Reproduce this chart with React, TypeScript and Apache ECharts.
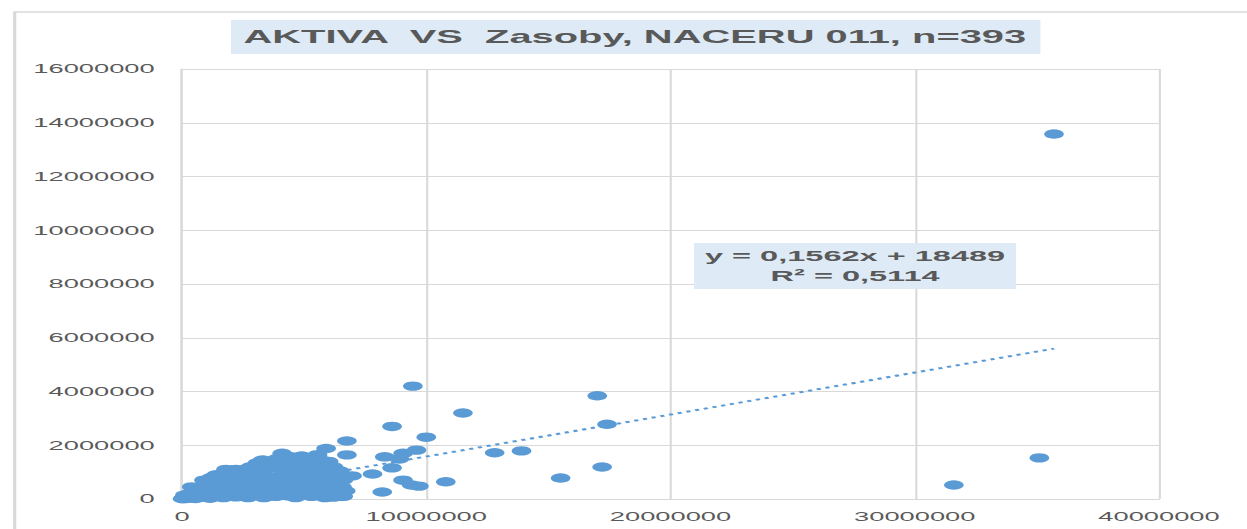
import React, { useEffect, useRef } from "react";
import * as echarts from "echarts";

// Values (AKTIVA on x, Zasoby on y)
const aktiva: number[] = [
  35700000, 31600000, 35100000, 17000000, 17400000, 17200000, 15500000, 13900000,
  12800000, 10800000, 11500000, 9450000, 10000000, 8600000, 9600000, 9050000,
  8300000, 8900000, 8600000, 7800000, 9050000, 9400000, 9700000, 8200000,
  6750000, 6750000, 5900000, 6960000, 6200000, 6300000, 6200000, 5900000,
  20000, 80000, 120000, 180000, 250000, 300000, 350000, 450000,
  500000, 550000, 650000, 700000, 750000, 850000, 900000, 950000,
  1050000, 1100000, 1150000, 1250000, 1300000, 1350000, 1450000, 1500000,
  1550000, 1600000, 1700000, 1750000, 1800000, 1850000, 1950000, 2000000,
  2050000, 2150000, 2200000, 2250000, 2300000, 2400000, 2450000, 2550000,
  2600000, 2700000, 2750000, 2800000, 2850000, 2950000, 3000000, 3100000,
  3150000, 3200000, 3300000, 3350000, 3450000, 3500000, 3600000, 3650000,
  3700000, 3800000, 3850000, 3950000, 4000000, 4100000, 4150000, 4250000,
  4300000, 4350000, 4450000, 4500000, 4600000, 4650000, 4750000, 4800000,
  4850000, 4950000, 5000000, 5100000, 5150000, 5250000, 5300000, 5400000,
  5450000, 5500000, 5600000, 5650000, 5750000, 5800000, 5850000, 5950000,
  6050000, 6100000, 6250000, 6350000, 6450000, 6550000, 4900000, 4400000,
  5200000, 5550000, 3300000, 3000000, 3400000, 3900000, 4200000, 4600000,
  5000000, 5350000, 5700000, 6000000, 6200000, 6450000, 6600000, 6500000,
  2200000, 2600000, 1400000, 1200000, 900000, 400000, 6700000, 6600000,
];
const zasoby: number[] = [
  13580000, 520000, 1530000, 3840000, 2780000, 1190000, 780000, 1790000,
  1720000, 640000, 3200000, 4200000, 2300000, 2700000, 1820000, 1700000,
  1570000, 1490000, 1160000, 930000, 700000, 520000, 480000, 260000,
  2160000, 1640000, 1880000, 860000, 960000, 260000, 70000, 1340000,
  10000, 50000, 150000, 20000, 80000, 200000, 40000, 120000,
  300000, 20000, 180000, 420000, 60000, 250000, 500000, 100000,
  320000, 600000, 30000, 200000, 450000, 700000, 120000, 550000,
  850000, 300000, 50000, 650000, 1100000, 400000, 180000, 900000,
  600000, 300000, 80000, 750000, 1000000, 450000, 200000, 950000,
  650000, 50000, 350000, 1200000, 800000, 150000, 550000, 1350000,
  950000, 300000, 700000, 50000, 1100000, 450000, 200000, 1400000,
  800000, 600000, 100000, 1200000, 350000, 1700000, 950000, 550000,
  120000, 1450000, 750000, 300000, 1150000, 50000, 1550000, 500000,
  900000, 200000, 1300000, 700000, 380000, 1050000, 100000, 1500000,
  550000, 850000, 250000, 1200000, 450000, 950000, 50000, 700000,
  1100000, 350000, 600000, 850000, 150000, 450000, 1600000, 1580000,
  1450000, 1650000, 1450000, 1000000, 1250000, 1500000, 1300000, 1400000,
  1000000, 1250000, 1450000, 1400000, 1200000, 1050000, 700000, 950000,
  1100000, 1100000, 900000, 800000, 700000, 450000, 300000, 100000,
];

const trendSlope = 0.1562;
const trendIntercept = 18489;
const equationLines = ["y = 0,1562x + 18489", "R² = 0,5114"];
const titleText = "AKTIVA  VS  Zasoby, NACERU 011, n=393";

const xMin = 0, xMax = 40000000, xStep = 10000000;
const yMin = 0, yMax = 16000000, yStep = 2000000;

const W = 594;
const H = 529;
const SX = 1247 / W;
const FONT = "'Liberation Sans', Arial, sans-serif";
const BLUE = "#5B9BD5";
const GRID = "#d9d9d9";
const TXT = "#595959";

export default function App() {
  const ref = useRef<HTMLDivElement>(null);
  useEffect(() => {
    if (!ref.current) return;
    const chart = echarts.init(ref.current, null, { renderer: "svg" });
    const points = aktiva.map((x, i) => [x, zasoby[i]]);
    const tx0 = Math.min(...aktiva);
    const tx1 = Math.max(...aktiva);
    const trend = [
      [tx0, trendSlope * tx0 + trendIntercept],
      [tx1, trendSlope * tx1 + trendIntercept],
    ];
    chart.setOption({
      animation: false,
      backgroundColor: "#ffffff",
      title: {
        text: titleText,
        left: 110,
        top: 20,
        padding: [7, 6, 7, 6],
        backgroundColor: "#DEEBF7",
        textStyle: {
          fontFamily: FONT,
          fontSize: 19,
          fontWeight: "bold",
          color: TXT,
          lineHeight: 20,
        },
      },
      grid: { left: 86.7, right: W - 552.1, top: 69, bottom: 30, containLabel: false },
      xAxis: {
        type: "value",
        min: xMin,
        max: xMax,
        interval: xStep,
        axisLine: { show: true, lineStyle: { color: GRID, width: 1 } },
        axisTick: { show: false },
        splitLine: { show: true, lineStyle: { color: GRID, width: 1 } },
        axisLabel: {
          color: TXT,
          fontFamily: FONT,
          fontSize: 13,
          margin: 11,
          formatter: (v: number) => String(v),
        },
      },
      yAxis: {
        type: "value",
        min: yMin,
        max: yMax,
        interval: yStep,
        axisLine: { show: true, lineStyle: { color: GRID, width: 1 } },
        axisTick: { show: false },
        splitLine: { show: true, lineStyle: { color: GRID, width: 1 } },
        axisLabel: {
          color: TXT,
          fontFamily: FONT,
          fontSize: 13,
          margin: 13,
          formatter: (v: number) => String(v),
        },
      },
      series: [
        {
          type: "line",
          data: trend,
          showSymbol: false,
          symbol: "none",
          lineStyle: { color: BLUE, width: 2, type: [2, 2.4], cap: "butt" },
          z: 2,
          silent: true,
        },
        {
          type: "scatter",
          data: points,
          symbol: "circle",
          symbolSize: 9.4,
          itemStyle: { color: BLUE, opacity: 1 },
          z: 3,
        },
      ],
      graphic: [
        {
          type: "rect",
          left: 4.5,
          top: 9.5,
          shape: { width: 800, height: 800 },
          style: { fill: "none", stroke: GRID, lineWidth: 1.5 },
          silent: true,
          z: 0,
        },
        {
          type: "rect",
          shape: { x: 330.6, y: 243, width: 153.4, height: 46 },
          style: { fill: "#DEEBF7" },
          z: 10,
        },
        {
          type: "text",
          x: 407.3,
          y: 266,
          style: {
            text: equationLines.join("\n"),
            fill: TXT,
            font: `bold 15.5px ${FONT}`,
            lineHeight: 20,
            align: "center",
            verticalAlign: "middle",
          },
          z: 11,
        },
      ],
    });
    return () => chart.dispose();
  }, []);
  return (
    <div
      style={{
        position: "absolute",
        left: 0,
        top: 0,
        width: 1247,
        height: 529,
        overflow: "hidden",
        background: "#fff",
      }}
    >
      <div
        ref={ref}
        style={{ width: W, height: H, transform: `scaleX(${SX})`, transformOrigin: "0 0" }}
      />
    </div>
  );
}
